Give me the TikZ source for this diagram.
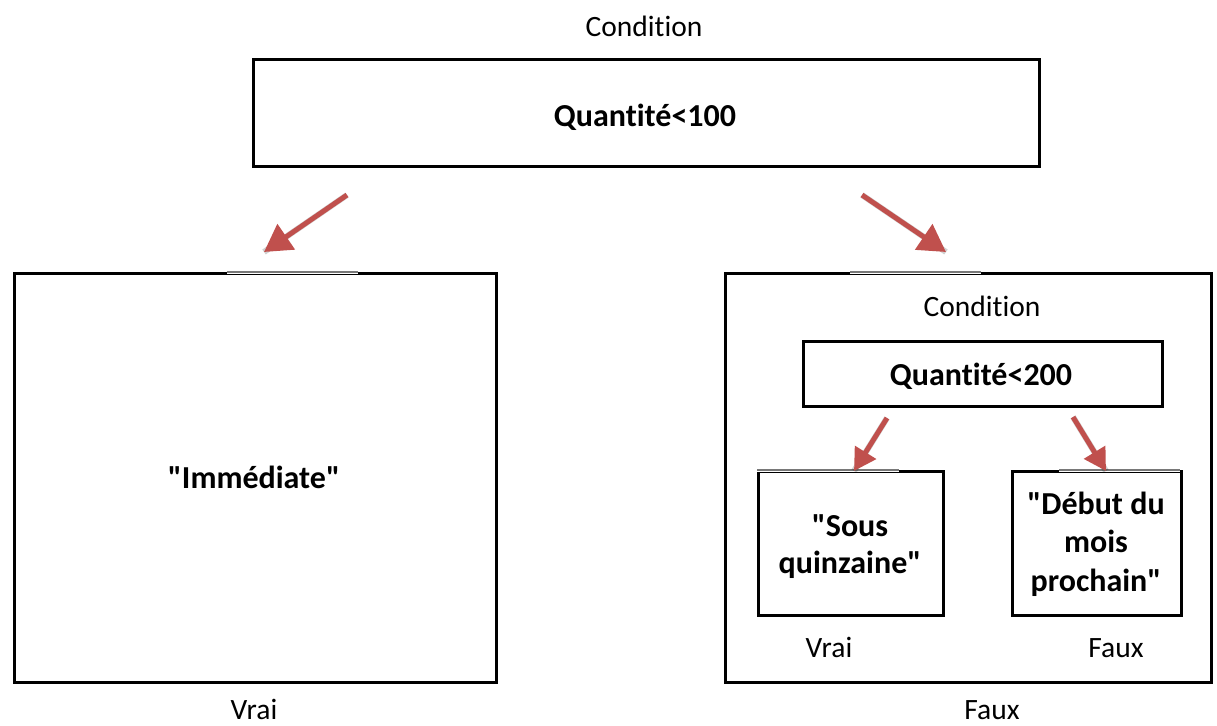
\documentclass[tikz,border=0pt]{standalone}
\usepackage{fontspec}
\setmainfont{Carlito}[Ligatures={TeX,NoCommon}]
\usetikzlibrary{arrows.meta}
\definecolor{arrowred}{RGB}{192,80,77}
\definecolor{edgegray}{RGB}{120,120,120}
\newcommand{\dq}{\XeTeXglyph\XeTeXcharglyph"22\relax}
\tikzset{
  box/.style={draw=black, line width=2.6pt, inner sep=0pt, anchor=north west},
  lbl/.style={font=\fontsize{29.5}{34}\selectfont, inner sep=0pt, anchor=base},
  big/.style={font=\bfseries\fontsize{32}{36}\selectfont, inner sep=0pt, align=center, anchor=base},
  redarrow/.style={draw=arrowred, line width=5pt, -{Triangle[length=27pt,width=30pt]}},
  smallarrow/.style={draw=arrowred, line width=5pt, -{Triangle[length=22pt,width=24pt]}},
  shadowarrow/.style={draw=black, opacity=0.18, line width=6pt},
  gap/.style={draw=white, line width=3pt},
  thinedge/.style={draw=edgegray, line width=1.4pt}
}
\begin{document}
\begin{tikzpicture}[x=1pt,y=-1pt]
\useasboundingbox (0,0) rectangle (1217,725);
% top
\node[lbl] (cond1) at (644,37) {Condition};
\node[box, minimum width=786pt, minimum height=107pt] (top) at (252,58) {};
\node[big] (q100) at (645,126) {Quantité<100};
% left big box
\node[box, minimum width=482pt, minimum height=409pt] (left) at (13,272) {};
\coordinate (lgA) at (227,272);
\coordinate (lgB) at (358,272);
\draw[gap] (lgA) -- (lgB);
\draw[thinedge] (lgA) -- (lgB);
\node[big] (imm) at (254,488) {\dq Immédiate\dq};
\node[lbl] (vrai1) at (254,719) {Vrai};
% right big box
\node[box, minimum width=486pt, minimum height=409pt] (right) at (724,272) {};
\coordinate (rgA) at (850,272);
\coordinate (rgB) at (981,272);
\draw[gap] (rgA) -- (rgB);
\draw[thinedge] (rgA) -- (rgB);
\node[lbl] (cond2) at (982,316) {Condition};
\node[lbl] (faux1) at (992,719) {Faux};
% inner condition
\node[box, minimum width=359pt, minimum height=65pt] (inner) at (802,340) {};
\node[big] (q200) at (981,385) {Quantité<200};
% sub boxes
\node[box, minimum width=185pt, minimum height=144pt] (sl) at (757,470) {};
\coordinate (slA) at (757,470);
\coordinate (slB) at (899,470);
\draw[gap] (slA) -- (slB);
\draw[thinedge] (slA) -- (slB);
\node[big, font=\bfseries\fontsize{32}{37}\selectfont] (sous) at (850,573) {\dq Sous\\quinzaine\dq};
\node[box, minimum width=169pt, minimum height=144pt] (sr) at (1011,470) {};
\coordinate (srA) at (1059,470);
\coordinate (srB) at (1180,470);
\draw[gap] (srA) -- (srB);
\draw[thinedge] (srA) -- (srB);
\node[big, font=\bfseries\fontsize{32}{38.5}\selectfont] (debut) at (1096,591) {\dq Début du\\mois\\prochain\dq};
\node[lbl] (vrai2) at (829,657) {Vrai};
\node[lbl] (faux2) at (1116,657) {Faux};
% arrows
\coordinate (a1s) at (347,195); \coordinate (a1e) at (264,252);
\coordinate (a2s) at (862,195); \coordinate (a2e) at (946,252);
\coordinate (a3s) at (887,418); \coordinate (a3e) at (854,471);
\coordinate (a4s) at (1073,417); \coordinate (a4e) at (1106,471);
\begin{scope}[shift={(2,4)}]
\draw[shadowarrow] (a1s) -- (a1e);
\draw[shadowarrow] (a2s) -- (a2e);
\draw[shadowarrow] (a3s) -- (a3e);
\draw[shadowarrow] (a4s) -- (a4e);
\end{scope}
\draw[redarrow] (a1s) -- (a1e);
\draw[redarrow] (a2s) -- (a2e);
\draw[smallarrow] (a3s) -- (a3e);
\draw[smallarrow] (a4s) -- (a4e);
\end{tikzpicture}
\end{document}
